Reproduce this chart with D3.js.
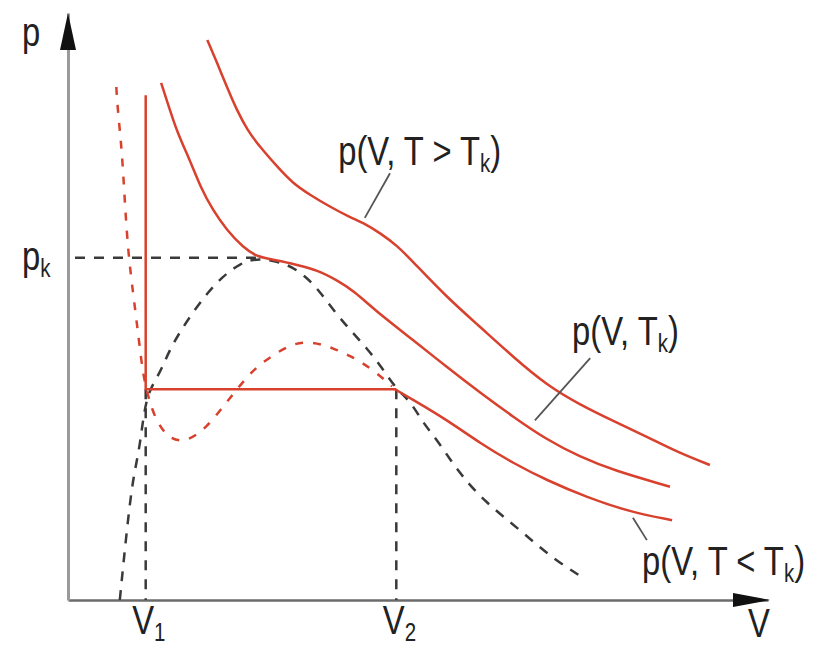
<!DOCTYPE html>
<html>
<head>
<meta charset="utf-8">
<script src="https://cdn.jsdelivr.net/npm/d3@7"></script>
<style>
  body { margin: 0; background: #fff; }
  text { font-family: "Liberation Sans", Arial, sans-serif; fill: #222; }
</style>
</head>
<body>
<div id="container"></div>
<script>
/* CONSTANTS AND GLOBALS */
const width = 814;
const height = 649;

// special values on the axes
const V1 = 1.11, V2 = 4.69, Vk = 2.71;
const pk = 5.83, pSat = 3.59;

/* DATA, [V, p] */
// isotherm T > Tk
const isoHot = [[1.99,9.54],[2.13,9.15],[2.27,8.74],[2.41,8.35],[2.56,8.01],[2.74,7.72],[2.99,7.38],
  [3.21,7.10],[3.46,6.90],[3.74,6.70],[4.03,6.52],[4.24,6.41],[4.46,6.25],[4.70,6.04],[4.93,5.76],
  [5.41,5.16],[5.89,4.65],[6.36,4.14],[6.84,3.66],[7.31,3.33],[7.79,3.05],[8.27,2.78],[8.74,2.50],
  [9.17,2.30]];
// critical isotherm T = Tk
const isoCrit = [[1.33,8.81],[1.41,8.52],[1.56,7.96],[1.74,7.50],[1.89,7.04],[2.07,6.64],[2.27,6.30],
  [2.50,6.01],[2.70,5.84],[2.99,5.79],[3.27,5.71],[3.56,5.62],[3.84,5.45],[4.07,5.28],[4.46,4.86],
  [4.93,4.43],[5.41,3.97],[5.89,3.53],[6.36,3.12],[6.84,2.73],[7.31,2.44],[7.79,2.21],[8.60,1.93]];
// isotherm T < Tk, gas branch right of V2
const isoColdGas = [[4.67,3.59],[4.93,3.41],[5.41,3.07],[5.89,2.67],[6.36,2.33],[6.84,2.04],
  [7.41,1.75],[8.03,1.50],[8.63,1.36]];
// liquid branch (vertical) top
const pLiquidTop = 8.60;
// van der Waals loop (dashed)
const vdwLoop = [[0.69,8.74],[0.71,8.35],[0.77,7.67],[0.81,6.81],[0.86,5.91],[0.93,5.23],[0.99,4.65],
  [1.03,4.26],[1.07,3.87],[1.13,3.54],[1.17,3.37],[1.27,3.02],[1.46,2.73],[1.70,2.69],[1.99,2.95],
  [2.21,3.29],[2.41,3.58],[2.64,3.92],[2.89,4.14],[3.21,4.38],[3.50,4.40],[3.79,4.29],[4.07,4.14],
  [4.36,3.92],[4.63,3.64]];
// coexistence curve (dashed black)
const binodal = [[0.74,0.00],[0.84,1.20],[0.93,2.10],[1.03,2.61],[1.11,3.50],[1.31,3.85],[1.43,4.21],
  [1.60,4.57],[1.79,4.91],[1.99,5.23],[2.20,5.50],[2.46,5.74],[2.71,5.83],[3.13,5.74],[3.41,5.50],
  [3.60,5.25],[3.81,4.91],[4.03,4.60],[4.27,4.29],[4.49,3.95],[4.69,3.59],[4.89,3.39],[5.07,3.02],
  [5.27,2.73],[5.46,2.39],[5.64,2.10],[5.93,1.70],[6.46,1.19],[6.90,0.73],[7.29,0.43]];

/* SCALES */
const xScale = d3.scaleLinear().domain([0, 10]).range([68, 768]);
const yScale = d3.scaleLinear().domain([0, 10]).range([600, 13]);

const red = "#d8412d";
const dark = "#3a3a3a";
const squeeze = 0.82; // condensed lettering

const svg = d3.select("#container")
  .append("svg")
  .attr("width", width)
  .attr("height", height);

const line = d3.line()
  .x(d => xScale(d[0]))
  .y(d => yScale(d[1]))
  .curve(d3.curveBasis);
const straight = d3.line().x(d => xScale(d[0])).y(d => yScale(d[1]));

// text with optional subscript, squeezed horizontally
function label(g, x, y, main, s, tail) {
  const t = g.append("text")
    .attr("transform", `translate(${x},${y}) scale(${squeeze},1)`)
    .attr("text-anchor", "start")
    .attr("font-size", 40);
  t.append("tspan").text(main);
  if (s) t.append("tspan").attr("font-size", 25).attr("dy", 7).text(s);
  if (tail) t.append("tspan").attr("dy", -7).text(tail);
  return t;
}

/* AXES */
const xAxis = svg.append("g")
  .attr("transform", `translate(0, ${yScale(0)})`)
  .call(d3.axisBottom(xScale).tickValues([V1, V2]).tickSize(0).tickSizeOuter(0).tickFormat(""));
const yAxis = svg.append("g")
  .attr("transform", `translate(${xScale(0)}, 0)`)
  .call(d3.axisLeft(yScale).tickValues([pk]).tickSize(0).tickSizeOuter(0).tickFormat(""));
xAxis.select(".domain").attr("stroke", "#6b6b6b").attr("stroke-width", 2.5);
yAxis.select(".domain").attr("stroke", "#9a9a9a").attr("stroke-width", 3);

// arrow heads
svg.append("path")
  .attr("d", `M${xScale(10) + 2},${yScale(0)} L${xScale(10) - 35},${yScale(0) - 7} L${xScale(10) - 35},${yScale(0) + 7} Z`)
  .attr("fill", "#111");
svg.append("path")
  .attr("d", `M${xScale(0)},${yScale(10)} L${xScale(0) - 8},${yScale(10) + 37} L${xScale(0) + 8},${yScale(10) + 37} Z`)
  .attr("fill", "#111");

// tick labels
xAxis.selectAll(".tick text").remove();
xAxis.selectAll(".tick").each(function(d) {
  label(d3.select(this), -14, 34, "V", d === V1 ? "1" : "2");
});
label(svg, xScale(10) - 20, yScale(0) + 37, "V");

yAxis.selectAll(".tick text").remove();
yAxis.selectAll(".tick").each(function() {
  label(d3.select(this), -46, 12, "p", "k");
});
label(svg, 22, 46, "p");

/* DASHED GUIDES */
const guides = svg.append("g")
  .attr("stroke", dark).attr("stroke-width", 2.5).attr("fill", "none")
  .attr("stroke-dasharray", "10,9");
guides.append("line")
  .attr("x1", xScale(0.1)).attr("x2", xScale(Vk))
  .attr("y1", yScale(pk)).attr("y2", yScale(pk));
[V1, V2].forEach(v => guides.append("line")
  .attr("x1", xScale(v)).attr("x2", xScale(v))
  .attr("y1", yScale(pSat)).attr("y2", yScale(0)));
guides.append("path").attr("d", line(binodal));

/* ISOTHERMS */
const iso = svg.append("g").attr("fill", "none").attr("stroke", red).attr("stroke-width", 2.5);
iso.append("path").attr("d", line(isoHot));
iso.append("path").attr("d", line(isoCrit));
iso.append("path").attr("d", line(isoColdGas));
iso.append("path").attr("d", straight([[V1, pLiquidTop], [V1, pSat], [V2, pSat]]));
iso.append("path").attr("d", line(vdwLoop)).attr("stroke-dasharray", "8,10");

/* LABELS */
const labels = [
  { V: 3.86, p: 7.41, parts: ["p(V, T > T", "k", ")"], lead: [[4.60, 7.27], [4.24, 6.51]] },
  { V: 7.20, p: 4.34, parts: ["p(V, T", "k", ")"], lead: [[7.46, 4.12], [6.67, 3.06]] },
  { V: 8.20, p: 0.43, parts: ["p(V, T < T", "k", ")"], lead: [[8.27, 1.02], [8.07, 1.40]] }
];
labels.forEach(l => {
  label(svg, xScale(l.V), yScale(l.p), ...l.parts);
  svg.append("line")
    .attr("x1", xScale(l.lead[0][0])).attr("y1", yScale(l.lead[0][1]))
    .attr("x2", xScale(l.lead[1][0])).attr("y2", yScale(l.lead[1][1]))
    .attr("stroke", "#555").attr("stroke-width", 1.8);
});
</script>
</body>
</html>
